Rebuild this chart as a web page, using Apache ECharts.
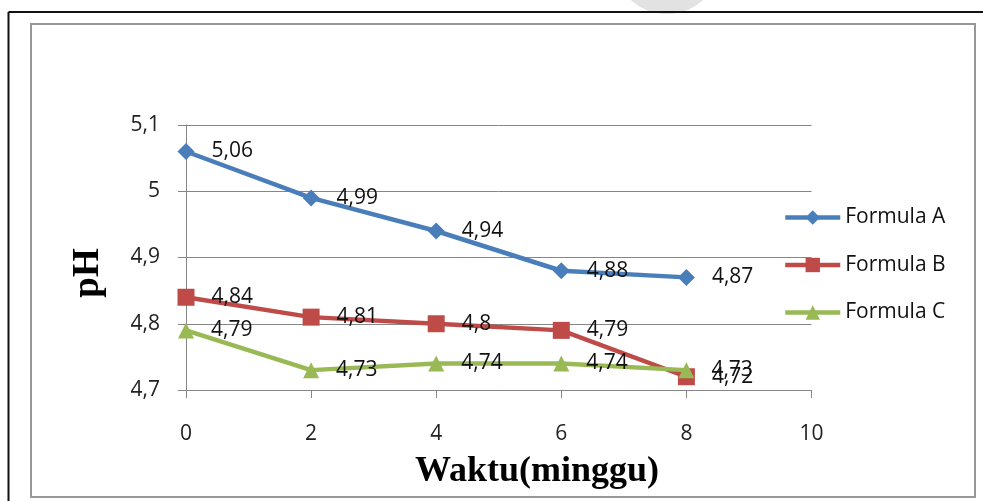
<!DOCTYPE html>
<html>
<head>
<meta charset="utf-8">
<script src="https://cdn.jsdelivr.net/npm/echarts@6/dist/echarts.min.js"></script>
<style>
  html, body { margin: 0; padding: 0; background: #fff; }
  #chart { width: 983px; height: 501px; }
</style>
</head>
<body>
<div id="chart"></div>
<script>
// Weeks of storage and measured pH for each formula
const weeks = [0, 2, 4, 6, 8];
const formulaA = [5.06, 4.99, 4.94, 4.88, 4.87];
const formulaB = [4.84, 4.81, 4.80, 4.79, 4.72];
const formulaC = [4.79, 4.73, 4.74, 4.74, 4.73];
const seriesNames = ['Formula A', 'Formula B', 'Formula C'];
const xTitle = 'Waktu(minggu)';
const yTitle = 'pH';

const seriesColors = ['#4A7EBB', '#BE4B48', '#98B954'];
const seriesSymbols = ['diamond', 'rect', 'triangle'];
const seriesSymbolSizes = [17, 17, 16];

// decimal comma, e.g. 4.8 -> "4,8"
const fmt = v => String(+Number(v).toFixed(2)).replace('.', ',');

const LABEL_FONT = '"Open Sans", "Noto Sans", sans-serif';
const SERIF = '"Liberation Serif", "DejaVu Serif", serif';

function pairs(values) {
  return weeks.map((w, i) => [w, values[i]]);
}

const chart = echarts.init(document.getElementById('chart'), null, { renderer: 'canvas' });
const allValues = [formulaA, formulaB, formulaC];

chart.setOption({
  animation: false,
  backgroundColor: '#fff',
  grid: { left: 186, top: 125, width: 625.5, height: 265, containLabel: false },
  legend: {
    orient: 'vertical',
    left: 778,
    top: 202,
    itemWidth: 55,
    itemHeight: 18,
    itemGap: 26.5,
    lineStyle: { width: 4.5 },
    textStyle: { fontFamily: LABEL_FONT, fontSize: 21, lineHeight: 21, color: '#111' },
    data: seriesNames
  },
  xAxis: {
    type: 'value',
    min: 0, max: 10, interval: 2,
    axisLine: { show: true, lineStyle: { color: '#868686', width: 1 } },
    axisTick: { show: true, length: 8, lineStyle: { color: '#868686' } },
    splitLine: { show: false },
    axisLabel: { margin: 34, fontFamily: LABEL_FONT, fontSize: 21, color: '#222', formatter: fmt }
  },
  yAxis: {
    type: 'value',
    min: 4.7, max: 5.1, interval: 0.1,
    axisLine: { show: true, lineStyle: { color: '#868686', width: 1 } },
    axisTick: { show: true, length: 8, lineStyle: { color: '#868686' } },
    splitLine: { show: true, lineStyle: { color: '#868686', width: 1 } },
    axisLabel: { margin: 26, fontFamily: LABEL_FONT, fontSize: 21, color: '#222', formatter: fmt }
  },
  graphic: [
    // faint grey shape at the top edge of the page
    { type: 'circle', shape: { cx: 667, cy: -40, r: 54 }, style: { fill: '#e2e2e2' }, silent: true, z: 0 },
    // outer page frame (black, top and left)
    { type: 'line', shape: { x1: 8.5, y1: 12, x2: 983, y2: 12 }, style: { stroke: '#111', lineWidth: 2 }, silent: true },
    { type: 'line', shape: { x1: 8.5, y1: 12, x2: 8.5, y2: 501 }, style: { stroke: '#111', lineWidth: 2 }, silent: true },
    // chart border
    { type: 'rect', shape: { x: 31, y: 24, width: 944, height: 473 }, style: { fill: null, stroke: '#979797', lineWidth: 2 }, silent: true },
    // axis titles
    {
      type: 'text', x: 88, y: 273, rotation: Math.PI / 2, silent: true,
      style: { text: yTitle, fontFamily: SERIF, fontWeight: 'bold', fontSize: 37, fill: '#000', align: 'center', verticalAlign: 'middle' }
    },
    {
      type: 'text', x: 537, y: 472, silent: true,
      style: { text: xTitle, fontFamily: SERIF, fontWeight: 'bold', fontSize: 36, fill: '#000', align: 'center', verticalAlign: 'middle' }
    }
  ],
  series: seriesNames.map((name, k) => ({
    name,
    type: 'line',
    data: pairs(allValues[k]),
    color: seriesColors[k],
    symbol: seriesSymbols[k],
    symbolSize: seriesSymbolSizes[k],
    showAllSymbol: true,
    lineStyle: { width: 4.5, color: seriesColors[k] },
    itemStyle: { color: seriesColors[k] },
    z: 2 + k,
    label: {
      show: true,
      position: 'right',
      distance: 17,
      offset: [0, 2],
      fontFamily: LABEL_FONT,
      fontSize: 21,
      color: '#111',
      formatter: p => fmt(p.value[1])
    },
    labelLayout: { hideOverlap: false }
  }))
});
</script>
</body>
</html>
